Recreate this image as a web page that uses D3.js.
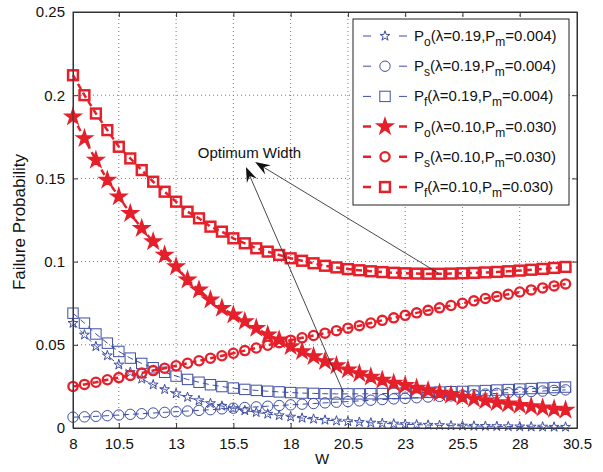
<!DOCTYPE html>
<html><head><meta charset="utf-8">
<script src="https://cdn.jsdelivr.net/npm/d3@7"></script>
<style>
html,body{margin:0;padding:0;background:#fff;}
text{font-family:"Liberation Sans",Arial,sans-serif;fill:#111;}
</style></head>
<body><svg id="c" width="603" height="472"></svg>
<script>
// ---- data ----
const W = d3.range(44).map(i => 8.5 + 0.5 * i);
const xTickValues = [8.5, 10.5, 13, 15.5, 18, 20.5, 23, 25.5, 28, 30.5];
const xTickLabels = ["8", "10.5", "13", "15.5", "18", "20.5", "23", "25.5", "28", "30.5"];
const yTickValues = [0, 0.05, 0.1, 0.15, 0.2, 0.25];
const yTickLabels = ["0", "0.05", "0.1", "0.15", "0.2", "0.25"];

const Po_019 = [0.063,0.056,0.049,0.0435,0.038,0.0335,0.0295,0.026,0.0232,0.0207,0.0185,0.0165,0.0148,0.0132,0.0118,0.0105,0.0094,0.0084,0.0075,0.0067,0.0060,0.0054,0.0048,0.0043,0.0039,0.0035,0.0031,0.0028,0.0025,0.0022,0.0020,0.0018,0.0016,0.0014,0.0013,0.0012,0.0011,0.0010,0.0009,0.0008,0.0007,0.0007,0.0006,0.0006];
const Ps_019 = [0.0065,0.0067,0.0070,0.0074,0.0078,0.0082,0.0086,0.0090,0.0094,0.0098,0.0102,0.0106,0.0110,0.0115,0.0119,0.0123,0.0127,0.0131,0.0135,0.0139,0.0143,0.0147,0.0151,0.0155,0.0159,0.0163,0.0167,0.0171,0.0175,0.0178,0.0182,0.0186,0.0190,0.0193,0.0197,0.0201,0.0204,0.0208,0.0212,0.0215,0.0219,0.0222,0.0226,0.0229];
const Pf_019 = [0.069,0.063,0.0565,0.051,0.046,0.042,0.0388,0.0362,0.0335,0.0312,0.0292,0.0275,0.026,0.0249,0.0240,0.0232,0.0226,0.0221,0.0217,0.0213,0.0210,0.0208,0.0206,0.0205,0.0205,0.0205,0.0206,0.0207,0.0208,0.0210,0.0212,0.0214,0.0216,0.0218,0.0220,0.0222,0.0225,0.0228,0.0231,0.0234,0.0237,0.0240,0.0243,0.0246];
const Po_010 = [0.187,0.174,0.161,0.149,0.139,0.129,0.120,0.112,0.104,0.097,0.089,0.083,0.077,0.072,0.068,0.064,0.060,0.056,0.053,0.049,0.046,0.043,0.040,0.0375,0.035,0.0327,0.0307,0.0288,0.027,0.0256,0.024,0.0225,0.021,0.0198,0.0186,0.0175,0.0164,0.0153,0.0145,0.0137,0.0129,0.0121,0.0114,0.0108];
const Ps_010 = [0.0250,0.0262,0.0275,0.0290,0.0303,0.0316,0.0330,0.0345,0.0359,0.0374,0.0389,0.0404,0.0419,0.0434,0.0449,0.0465,0.0481,0.0497,0.0513,0.0528,0.0542,0.0556,0.0570,0.0585,0.0600,0.0615,0.0631,0.0647,0.0662,0.0677,0.0692,0.0707,0.0722,0.0736,0.0750,0.0764,0.0778,0.0791,0.0804,0.0817,0.0830,0.0842,0.0854,0.0866];
const Pf_010 = [0.212,0.200,0.189,0.179,0.169,0.162,0.155,0.148,0.142,0.136,0.130,0.126,0.121,0.118,0.114,0.111,0.108,0.106,0.104,0.102,0.1005,0.099,0.0975,0.0965,0.0955,0.0948,0.0942,0.0937,0.0933,0.0930,0.0928,0.0927,0.0927,0.0928,0.0930,0.0932,0.0935,0.0938,0.0942,0.0946,0.0951,0.0956,0.0962,0.0968];

const legendMain = ["P","P","P","P","P","P"];
const legendSub = ["o","s","f","o","s","f"];
const legendLambda = ["0.19","0.19","0.19","0.10","0.10","0.10"];
const legendPm = ["0.004","0.004","0.004","0.030","0.030","0.030"];

const annotText = "Optimum Width";
const annotPos = [13.95, 0.1625];
const arrowFrom = [[24.45, 0.0931], [20.3, 0.0216]];
const arrowTo = [[16.45, 0.1598], [16.05, 0.1568]];

// ---- styles ----
const BLUE = "#3f4ea3", RED = "#e5202b";
const styles = [
  {data: Po_019, color: BLUE, lw: 1, marker: "star", fill: false, size: 5.2, mw: 1},
  {data: Ps_019, color: BLUE, lw: 1, marker: "circle", fill: false, size: 5.2, mw: 1},
  {data: Pf_019, color: BLUE, lw: 1, marker: "square", fill: false, size: 5.2, mw: 1},
  {data: Po_010, color: RED, lw: 2.5, marker: "star", fill: true, size: 8.2, mw: 1.5},
  {data: Ps_010, color: RED, lw: 2.5, marker: "circle", fill: false, size: 4.6, mw: 2.3},
  {data: Pf_010, color: RED, lw: 2.5, marker: "square", fill: false, size: 4.9, mw: 2.5}
];

const svg = d3.select("#c");
const x = d3.scaleLinear().domain([8.5, 30.5]).range([73, 577]);
const y = d3.scaleLinear().domain([0, 0.25]).range([428, 12]);
const [x0, x1] = x.range(), [y0, y1] = y.range();

svg.append("rect").attr("x", x0).attr("y", y1).attr("width", x1 - x0).attr("height", y0 - y1).attr("fill", "#fff");

// grid
const grid = svg.append("g").attr("stroke", "#777").attr("stroke-width", 1).attr("stroke-dasharray", "1,3");
xTickValues.slice(1, -1).forEach(v => grid.append("line").attr("x1", x(v)).attr("x2", x(v)).attr("y1", y0).attr("y2", y1));
yTickValues.slice(1, -1).forEach(v => grid.append("line").attr("y1", y(v)).attr("y2", y(v)).attr("x1", x0).attr("x2", x1));

// axes
const fmtX = (d, i) => xTickLabels[i];
const fmtY = (d, i) => yTickLabels[i];
function styleAxis(g) {
  g.selectAll("path").attr("stroke", "#333");
  g.selectAll("line").attr("stroke", "#333");
  g.selectAll("text").style("font-size", "15px").attr("fill", "#111");
}
svg.append("g").attr("transform", `translate(0,${y0})`)
  .call(d3.axisBottom(x).tickValues(xTickValues).tickFormat(fmtX).tickSizeInner(-5).tickSizeOuter(0).tickPadding(10))
  .call(styleAxis);
svg.append("g").attr("transform", `translate(0,${y1})`)
  .call(d3.axisTop(x).tickValues(xTickValues).tickFormat("").tickSizeInner(-5).tickSizeOuter(0))
  .call(styleAxis);
svg.append("g").attr("transform", `translate(${x0},0)`)
  .call(d3.axisLeft(y).tickValues(yTickValues).tickFormat(fmtY).tickSizeInner(-5).tickSizeOuter(0).tickPadding(8))
  .call(styleAxis);
svg.append("g").attr("transform", `translate(${x1},0)`)
  .call(d3.axisRight(y).tickValues(yTickValues).tickFormat("").tickSizeInner(-5).tickSizeOuter(0))
  .call(styleAxis);

// markers
function drawMarker(g, cx, cy, s) {
  const r = s.size;
  if (s.marker === "circle") {
    g.append("circle").attr("cx", cx).attr("cy", cy).attr("r", r)
      .attr("fill", "none").attr("stroke", s.color).attr("stroke-width", s.mw);
  } else if (s.marker === "square") {
    g.append("rect").attr("x", cx - r).attr("y", cy - r).attr("width", 2 * r).attr("height", 2 * r)
      .attr("fill", "none").attr("stroke", s.color).attr("stroke-width", s.mw);
  } else {
    const area = r * r / 0.8908130915292852;
    g.append("path").attr("d", d3.symbol(d3.symbolStar, area)())
      .attr("transform", `translate(${cx},${cy})`)
      .attr("fill", s.fill ? s.color : "none").attr("stroke", s.color).attr("stroke-width", s.mw)
      .attr("stroke-linejoin", "miter");
  }
}

const line = d3.line().x((d, i) => x(W[i])).y(d => y(d));
const plot = svg.append("g");
styles.forEach(s => {
  plot.append("path").attr("d", line(s.data)).attr("fill", "none")
    .attr("stroke", s.color).attr("stroke-width", s.lw).attr("stroke-dasharray", "6,4");
  const mg = plot.append("g");
  s.data.forEach((v, i) => drawMarker(mg, x(W[i]), y(v), s));
});

// frame
svg.append("rect").attr("x", x0).attr("y", y1).attr("width", x1 - x0).attr("height", y0 - y1)
  .attr("fill", "none").attr("stroke", "#333").attr("stroke-width", 1);

// annotation arrows
const ann = svg.append("g");
function arrow(from, to) {
  const ax = x(from[0]), ay = y(from[1]), bx = x(to[0]), by = y(to[1]);
  const ang = Math.atan2(by - ay, bx - ax);
  const L = 15, Wd = 5.5;
  const bx2 = bx - Math.cos(ang) * L * 0.6, by2 = by - Math.sin(ang) * L * 0.6;
  ann.append("line").attr("x1", ax).attr("y1", ay).attr("x2", bx2).attr("y2", by2)
    .attr("stroke", "#333").attr("stroke-width", 0.9);
  const p = (d, w) => [bx - Math.cos(ang) * d - Math.sin(ang) * w, by - Math.sin(ang) * d + Math.cos(ang) * w];
  const pts = [[bx, by], p(L, Wd), p(L * 0.65, 0), p(L, -Wd)];
  ann.append("path").attr("d", "M" + pts.map(q => q.join(",")).join("L") + "Z").attr("fill", "#111");
}
arrowFrom.forEach((f, i) => arrow(f, arrowTo[i]));
ann.append("text").attr("x", x(annotPos[0])).attr("y", y(annotPos[1])).style("font-size", "15px").text(annotText);

// axis labels
svg.append("text").attr("x", x((8.5 + 30.5) / 2) - 3).attr("y", 464).attr("text-anchor", "middle").style("font-size", "15px").text("W");
svg.append("text").attr("transform", `translate(25,${(y0 + y1) / 2 + 2}) rotate(-90)`).attr("text-anchor", "middle").style("font-size", "17px").text("Failure Probability");

// legend
const lg = svg.append("g");
lg.append("rect").attr("x", 353).attr("y", 19).attr("width", 216).attr("height", 186)
  .attr("fill", "#fff").attr("stroke", "#222").attr("stroke-width", 1);
styles.forEach((s, i) => {
  const cy = 36 + i * 30.2;
  lg.append("line").attr("x1", 363).attr("x2", 407).attr("y1", cy).attr("y2", cy)
    .attr("stroke", s.color).attr("stroke-width", s.lw).attr("stroke-dasharray", "8,28");
  drawMarker(lg, 385, cy, s);
  const t = lg.append("text").attr("x", 414).attr("y", cy + 5).style("font-size", "15px");
  t.append("tspan").text(legendMain[i]);
  t.append("tspan").attr("dy", 5).style("font-size", "12px").text(legendSub[i]);
  t.append("tspan").attr("dy", -5).text("(λ=" + legendLambda[i] + ",P");
  t.append("tspan").attr("dy", 5).style("font-size", "12px").text("m");
  t.append("tspan").attr("dy", -5).text("=" + legendPm[i] + ")");
});
</script></body></html>
